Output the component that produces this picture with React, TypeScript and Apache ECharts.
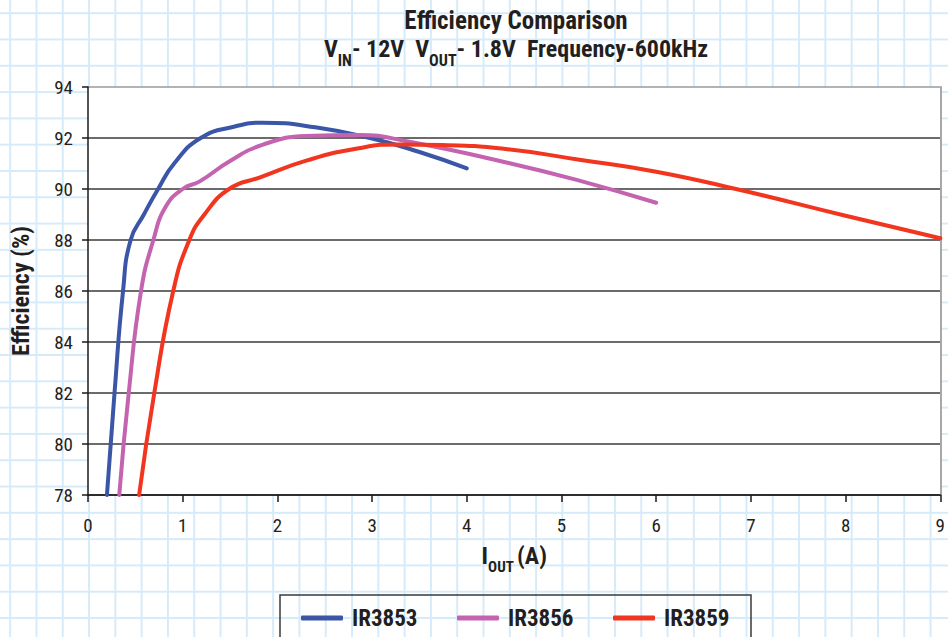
import React, { useEffect, useRef } from "react";
import * as echarts from "echarts";

const FONT = "'Roboto Condensed', 'DejaVu Sans Condensed', sans-serif";
const TEXT = "#231f20";

const seriesNames = ["IR3853", "IR3856", "IR3859"];
const seriesColors = ["#3b56a6", "#c464b0", "#f1351f"];

// [Iout (A), Efficiency (%)]
const ir3853 = [
  [0.2, 78], [0.28, 82], [0.37, 86], [0.45, 88], [0.59, 89], [0.74, 90], [0.91, 91],
  [1.19, 92], [1.55, 92.45], [1.84, 92.6], [2.4, 92.42], [3.0, 91.98], [3.5, 91.45], [4.0, 90.81],
];
const ir3856 = [
  [0.33, 78], [0.43, 82], [0.56, 86], [0.69, 88], [0.82, 89.3], [1.0, 90], [1.18, 90.3],
  [1.5, 91.1], [1.84, 91.73], [2.3, 92.08], [2.86, 92.12], [3.38, 91.86], [4.43, 91.03],
  [5.17, 90.35], [6.0, 89.46],
];
const ir3859 = [
  [0.54, 78], [0.7, 82], [0.9, 86], [1.07, 88], [1.23, 89], [1.49, 90], [1.81, 90.45],
  [2.33, 91.14], [2.86, 91.6], [3.3, 91.75], [3.73, 91.73], [4.43, 91.56], [5.17, 91.16],
  [6.0, 90.68], [6.9, 89.95], [8.0, 88.95], [9.0, 88.07],
];
const seriesData = [ir3853, ir3856, ir3859];

const xMin = 0, xMax = 9, xStep = 1;
const yMin = 78, yMax = 94, yStep = 2;

const legendLefts = [301, 457, 613];

export default function App() {
  const ref = useRef<HTMLDivElement>(null);

  useEffect(() => {
    const chart = echarts.init(ref.current!, null, { renderer: "svg" });
    const nLines = (yMax - yMin) / yStep + 1;
    const splitColors = Array.from({ length: nLines }, (_, i) => (i === nLines - 1 ? "#9a9a9a" : "#3a3a3a"));
    const mainRich = { fontFamily: FONT, fontSize: 24, fontWeight: "bold", color: TEXT, lineHeight: 26, verticalAlign: "top" };
    chart.setOption({
      animation: false,
      title: [
        {
          text: "Efficiency Comparison",
          left: 516,
          top: 7,
          textAlign: "center",
          padding: 0,
          textStyle: { fontFamily: FONT, fontSize: 25, fontWeight: "bold", color: TEXT, lineHeight: 26 },
        },
        {
          text: "{m|V}{s|IN}{m|- 12V  V}{s|OUT}{m|- 1.8V  Frequency-600kHz}",
          left: 516,
          top: 37,
          textAlign: "center",
          padding: 0,
          textStyle: {
            rich: {
              m: mainRich,
              s: { fontFamily: FONT, fontSize: 16, fontWeight: "bold", color: TEXT, lineHeight: 31, verticalAlign: "bottom" },
            },
          },
        },
      ],
      grid: { left: 88, right: 3, top: 87, bottom: 142, show: true, backgroundColor: "#ffffff", borderWidth: 0 },
      legend: seriesNames.map((n, i) => ({
        data: [n],
        left: legendLefts[i],
        top: 606,
        padding: 0,
        itemWidth: 42,
        itemHeight: 5,
        icon: "roundRect",
        textStyle: { fontFamily: FONT, fontSize: 23, fontWeight: "bold", color: TEXT, lineHeight: 24, padding: [0, 0, 0, 4] },
      })),
      xAxis: {
        type: "value",
        min: xMin,
        max: xMax,
        interval: xStep,
        axisLine: { show: true, lineStyle: { color: "#1a1a1a", width: 1.5 } },
        axisTick: { show: true, length: 7, lineStyle: { color: "#1a1a1a", width: 1.5 } },
        axisLabel: { margin: 20, fontFamily: FONT, fontSize: 19, color: TEXT, lineHeight: 20 },
        splitLine: { show: false },
        name: "{m|I}{s|OUT }{m|(A)}",
        nameLocation: "middle",
        nameGap: 49,
        nameTextStyle: {
          rich: {
            m: mainRich,
            s: { fontFamily: FONT, fontSize: 15, fontWeight: "bold", color: TEXT, lineHeight: 30, verticalAlign: "bottom" },
          },
        },
      },
      yAxis: [
        {
          type: "value",
          min: yMin,
          max: yMax,
          interval: yStep,
          axisLine: { show: true, lineStyle: { color: "#1a1a1a", width: 1.5 } },
          axisTick: { show: true, length: 6, lineStyle: { color: "#1a1a1a", width: 1.5 } },
          axisLabel: { margin: 15, fontFamily: FONT, fontSize: 19, color: TEXT },
          splitLine: { show: true, lineStyle: { color: splitColors, width: 1.6 } },
          name: "Efficiency (%)",
          nameLocation: "middle",
          nameGap: 55,
          nameRotate: 90,
          nameTextStyle: { fontFamily: FONT, fontSize: 24, fontWeight: "bold", color: TEXT },
        },
        {
          type: "value",
          position: "right",
          min: yMin,
          max: yMax,
          interval: yStep,
          axisLine: { show: true, lineStyle: { color: "#a8a8a8", width: 2 } },
          axisTick: { show: false },
          axisLabel: { show: false },
          splitLine: { show: false },
        },
      ],
      graphic: [
        {
          type: "rect",
          shape: { x: 280, y: 595, width: 471, height: 60 },
          style: { fill: "none", stroke: "#3a3a3a", lineWidth: 1.5 },
          silent: true,
        },
      ],
      series: seriesNames.map((n, i) => ({
        name: n,
        type: "line",
        data: seriesData[i],
        smooth: 0.5,
        symbol: "none",
        clip: true,
        color: seriesColors[i],
        lineStyle: { width: 4, color: seriesColors[i], cap: "round" },
        z: 2 + i,
      })),
    });
    return () => chart.dispose();
  }, []);

  const lineCol = "#d6ebfa";
  return (
    <div
      style={{
        position: "fixed",
        left: 0,
        top: 0,
        width: 948,
        height: 637,
        backgroundColor: "#ffffff",
        backgroundImage: `linear-gradient(to right, ${lineCol} 0px, ${lineCol} 1.6px, transparent 1.6px), linear-gradient(to bottom, ${lineCol} 0px, ${lineCol} 1.6px, transparent 1.6px)`,
        backgroundSize: "26.3px 26.3px",
        backgroundPosition: "9.2px 91.1px",
      }}
    >
      <div ref={ref} style={{ width: 948, height: 637 }} />
    </div>
  );
}
